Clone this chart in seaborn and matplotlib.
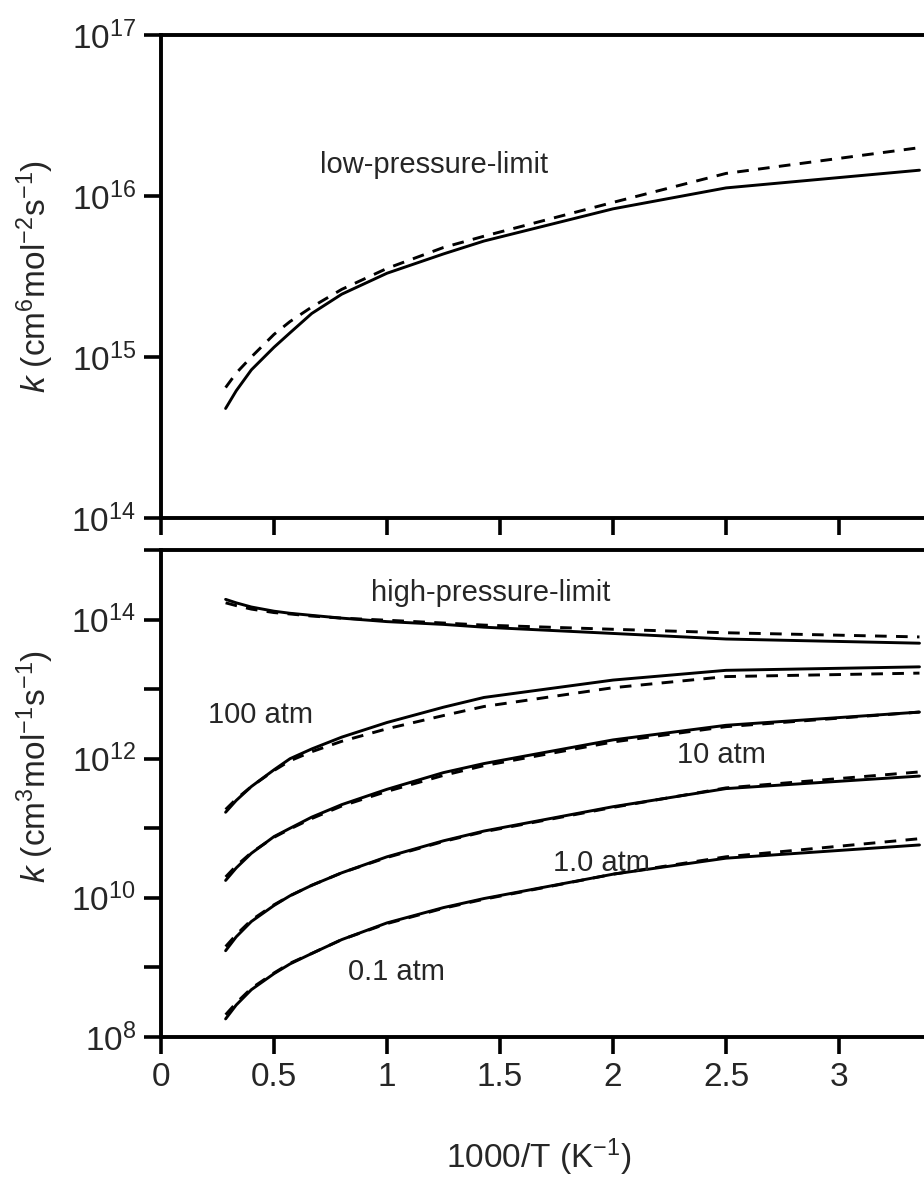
import numpy as np
import pandas as pd
import matplotlib
matplotlib.use("Agg")
import matplotlib.pyplot as plt
import matplotlib.ticker as mticker
import seaborn as sns

# ---------------- data (log10 of k) ----------------
inv_T = [0.286, 0.333, 0.4, 0.5, 0.571, 0.667, 0.8, 1.0, 1.25, 1.429, 2.0, 2.5, 3.356]

lpl_solid = [14.68, 14.79, 14.92, 15.06, 15.15, 15.27, 15.39, 15.52, 15.64, 15.72, 15.92, 16.05, 16.16]
lpl_dashed = [14.81, 14.90, 15.00, 15.14, 15.22, 15.31, 15.42, 15.55, 15.68, 15.75, 15.96, 16.14, 16.30]

hpl_solid = [14.29, 14.24, 14.18, 14.12, 14.09, 14.06, 14.02, 13.97, 13.93, 13.89, 13.80, 13.72, 13.66]
hpl_dashed = [14.24, 14.20, 14.15, 14.10, 14.08, 14.05, 14.02, 13.99, 13.95, 13.92, 13.86, 13.81, 13.75]

p100_solid = [11.23, 11.40, 11.60, 11.84, 12.00, 12.14, 12.31, 12.52, 12.74, 12.88, 13.13, 13.27, 13.32]
p100_dashed = [11.27, 11.42, 11.60, 11.83, 11.97, 12.10, 12.25, 12.43, 12.62, 12.75, 13.02, 13.18, 13.23]

p10_solid = [10.25, 10.43, 10.64, 10.88, 11.00, 11.16, 11.34, 11.56, 11.80, 11.93, 12.27, 12.48, 12.67]
p10_dashed = [10.30, 10.46, 10.65, 10.87, 10.99, 11.14, 11.32, 11.53, 11.76, 11.90, 12.24, 12.46, 12.67]

p1_solid = [9.24, 9.44, 9.66, 9.89, 10.03, 10.18, 10.36, 10.59, 10.82, 10.96, 11.31, 11.57, 11.75]
p1_dashed = [9.30, 9.47, 9.68, 9.90, 10.03, 10.18, 10.36, 10.58, 10.81, 10.95, 11.30, 11.58, 11.81]

p01_solid = [8.26, 8.46, 8.68, 8.91, 9.05, 9.20, 9.40, 9.64, 9.86, 9.99, 10.34, 10.57, 10.76]
p01_dashed = [8.32, 8.49, 8.70, 8.92, 9.06, 9.20, 9.40, 9.63, 9.85, 9.98, 10.34, 10.59, 10.85]

x_ticks = [0, 0.5, 1, 1.5, 2, 2.5, 3]
top_yticks = [1e14, 1e15, 1e16, 1e17]
bot_yticks = [1e8, 1e9, 1e10, 1e11, 1e12, 1e13, 1e14, 1e15]

# ---------------- long-form tables ----------------
def build(series):
    rows = []
    for name, model, vals in series:
        for x, v in zip(inv_T, vals):
            rows.append({"x": x, "k": 10.0 ** v, "curve": name + "_" + model, "model": model})
    return pd.DataFrame(rows)

df_top = build([("lpl", "solid", lpl_solid), ("lpl", "dashed", lpl_dashed)])
df_bot = build([
    ("hpl", "solid", hpl_solid), ("hpl", "dashed", hpl_dashed),
    ("p100", "solid", p100_solid), ("p100", "dashed", p100_dashed),
    ("p10", "solid", p10_solid), ("p10", "dashed", p10_dashed),
    ("p1", "solid", p1_solid), ("p1", "dashed", p1_dashed),
    ("p01", "solid", p01_solid), ("p01", "dashed", p01_dashed),
])

# ---------------- style ----------------
sns.set_style("ticks")
plt.rcParams["font.family"] = ["Liberation Sans", "DejaVu Sans"]
plt.rcParams["mathtext.fontset"] = "custom"
plt.rcParams["mathtext.rm"] = "Liberation Sans"
plt.rcParams["mathtext.it"] = "Liberation Sans:italic"
plt.rcParams["mathtext.default"] = "regular"

TICK_FS = 24
LABEL_FS = 24
ANN_FS = 21
SPINE_W = 2.8

fig = plt.figure(figsize=(9.24, 11.85), dpi=100)
ax_top = fig.add_axes([0.1742, 0.5629, 0.8258, 0.4076])
ax_bot = fig.add_axes([0.1742, 0.1249, 0.8258, 0.4110])

dash_map = {"solid": "", "dashed": (4, 3.2)}

for ax, df in ((ax_top, df_top), (ax_bot, df_bot)):
    ax.set_yscale("log")
    sns.lineplot(data=df, x="x", y="k", units="curve", style="model",
                 estimator=None, sort=False, color="black", dashes=dash_map,
                 linewidth=2.1, legend=False, ax=ax)
    ax.set_xlim(0, 3.376)
    ax.set_xticks(x_ticks)
    ax.spines["right"].set_visible(False)
    for s in ("left", "bottom", "top"):
        ax.spines[s].set_linewidth(SPINE_W)
        ax.spines[s].set_color("black")
    ax.tick_params(axis="both", which="both", direction="out", length=12,
                   width=2.6, color="black", labelsize=TICK_FS, pad=6,
                   top=False, right=False)
    ax.set_xlabel("")
    ax.set_ylabel("")

def pow_fmt(val, pos):
    e = int(round(np.log10(val)))
    return r"$10^{%d}$" % e

# top panel
ax_top.set_ylim(1e14, 1e17)
ax_top.yaxis.set_major_locator(mticker.FixedLocator(top_yticks))
ax_top.yaxis.set_minor_locator(mticker.NullLocator())
ax_top.yaxis.set_major_formatter(mticker.FuncFormatter(pow_fmt))
ax_top.tick_params(axis="x", labelbottom=False)

# bottom panel
def bot_fmt(val, pos):
    e = int(round(np.log10(val)))
    return r"$10^{%d}$" % e if e % 2 == 0 else ""

ax_bot.set_ylim(1e8, 1e15)
ax_bot.yaxis.set_major_locator(mticker.FixedLocator(bot_yticks))
ax_bot.yaxis.set_minor_locator(mticker.NullLocator())
ax_bot.yaxis.set_major_formatter(mticker.FuncFormatter(bot_fmt))
ax_bot.xaxis.set_major_formatter(mticker.FuncFormatter(lambda v, p: ("%g" % v)))

# axis labels
ax_top.set_ylabel(r"$\it{k}$ (cm$^{6}$mol$^{-2}$s$^{-1}$)", fontsize=LABEL_FS)
ax_top.yaxis.set_label_coords(-0.138, 0.5)
ax_bot.set_ylabel(r"$\it{k}$ (cm$^{3}$mol$^{-1}$s$^{-1}$)", fontsize=LABEL_FS)
ax_bot.yaxis.set_label_coords(-0.138, 0.555)
ax_bot.set_xlabel(r"1000/T (K$^{-1}$)", fontsize=LABEL_FS)
ax_bot.xaxis.set_label_coords(0.495, -0.205)

# annotations
ax_top.text(1.21, 10 ** 16.19, "low-pressure-limit", fontsize=ANN_FS, ha="center", va="center")
ax_bot.text(1.46, 10 ** 14.38, "high-pressure-limit", fontsize=ANN_FS, ha="center", va="center")
ax_bot.text(0.44, 10 ** 12.63, "100 atm", fontsize=ANN_FS, ha="center", va="center")
ax_bot.text(2.48, 10 ** 12.05, "10 atm", fontsize=ANN_FS, ha="center", va="center")
ax_bot.text(1.95, 10 ** 10.50, "1.0 atm", fontsize=ANN_FS, ha="center", va="center")
ax_bot.text(1.044, 10 ** 8.93, "0.1 atm", fontsize=ANN_FS, ha="center", va="center")

fig.savefig("out.png", dpi=100)
